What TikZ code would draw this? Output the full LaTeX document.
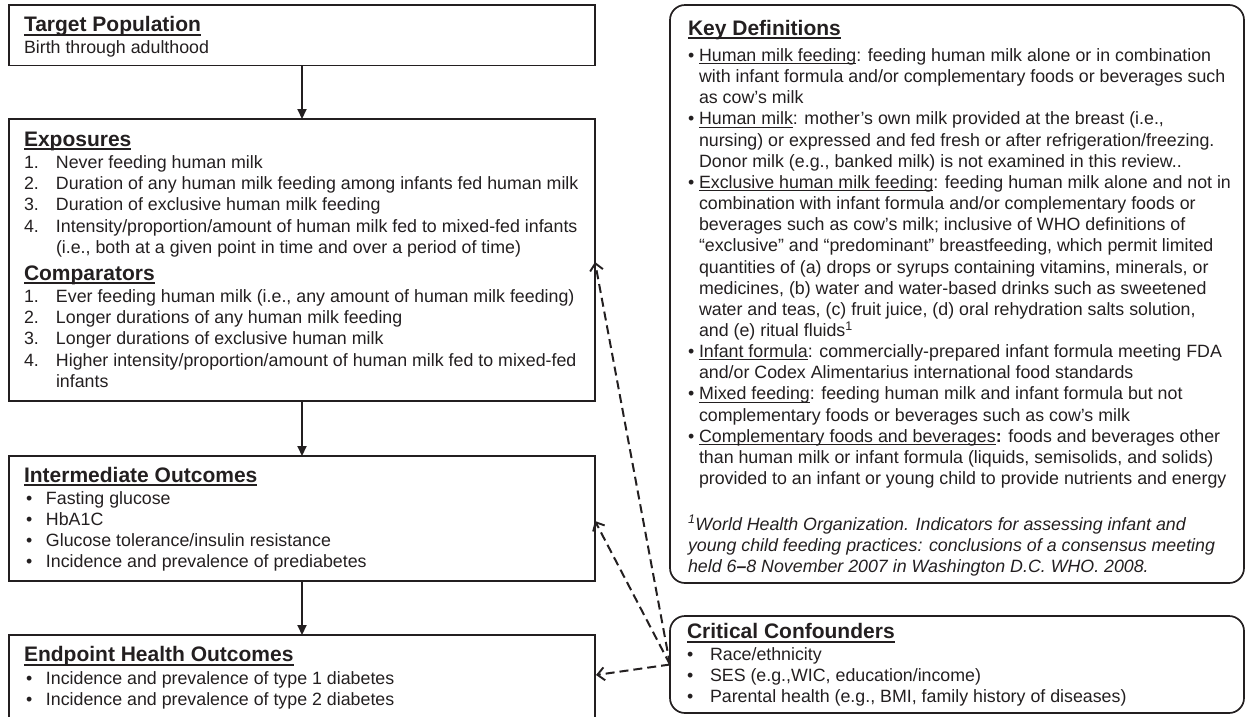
\documentclass[tikz,border=0pt]{standalone}
\usepackage{fontspec}
\setmainfont{Liberation Sans}
\usetikzlibrary{arrows.meta}
\definecolor{ink}{RGB}{35,31,32}
\newcommand\ulT[1]{\setbox0\hbox{#1}\makebox[0pt][l]{\rule[-4.3pt]{\wd0}{2.3pt}}\box0}
\newcommand\ulK[1]{\setbox0\hbox{#1}\makebox[0pt][l]{\rule[-2.8pt]{\wd0}{1.1pt}}\box0}
\newcommand\ttl[1]{{\fontsize{21}{21}\selectfont\bfseries\ulT{#1}}}
\newcommand\nm[1]{\makebox[32pt][l]{#1}}
\newcommand\bl{\makebox[22pt][l]{\hspace{2pt}•}}
\newcommand\kb{\makebox[11pt][l]{•}}
\newcommand\kc{\hspace*{11pt}}
\newcommand\cb{\makebox[23pt][l]{•}}
\newcommand\body{\fontsize{17.8}{21.2}\selectfont\lineskiplimit=-100pt\raggedright}
\begin{document}
\begin{tikzpicture}[x=1pt,y=-1pt,
  box/.style={draw=ink, line width=1.7pt, inner sep=0pt, outer sep=0pt, anchor=north west},
  rbox/.style={box, rounded corners=15pt},
  txt/.style={inner sep=0pt, outer sep=0pt, anchor=base west, text=ink},
  arr/.style={draw=ink, line width=2pt, -{Triangle[length=10pt,width=9pt]}},
  darr/.style={draw=ink, line width=2pt, dash pattern=on 9pt off 5pt,
    -{Straight Barb[length=7pt,width=13pt,line width=1.9pt]}}]
\useasboundingbox (0,0) rectangle (1247,716);
\clip (0,0) rectangle (1247,716);

% left column boxes
\node[box, minimum width=586pt, minimum height=60.5pt] (tp) at (9,5) {};
\node[box, minimum width=586pt, minimum height=282pt] (exp) at (9,119) {};
\node[box, minimum width=586pt, minimum height=125pt] (int) at (9,456) {};
\node[box, minimum width=586pt, minimum height=130pt] (end) at (9,635) {};
% right column boxes
\node[rbox, minimum width=574pt, minimum height=578pt] (kd) at (670,5) {};
\node[rbox, minimum width=574pt, minimum height=97pt] (cc) at (670,616) {};

% texts
\node[txt] (tpT) at (24,31.5) {\parbox[t]{600pt}{\body
\ttl{Target Population}\\[0.6pt]
Birth through adulthood}};

\node[txt] (expT) at (24,146) {\parbox[t]{600pt}{\body
\ttl{Exposures}\\[1.3pt]
\nm{1.}Never feeding human milk\\
\nm{2.}Duration of any human milk feeding among infants fed human milk\\
\nm{3.}Duration of exclusive human milk feeding\\
\nm{4.}Intensity/proportion/amount of human milk fed to mixed-fed infants\\
\nm{}(i.e., both at a given point in time and over a period of time)\\[5.5pt]
\ttl{Comparators}\\[1.3pt]
\nm{1.}Ever feeding human milk (i.e., any amount of human milk feeding)\\
\nm{2.}Longer durations of any human milk feeding\\
\nm{3.}Longer durations of exclusive human milk\\
\nm{4.}Higher intensity/proportion/amount of human milk fed to mixed-fed\\
\nm{}infants}};

\node[txt] (intT) at (24,482) {\parbox[t]{600pt}{\body
\ttl{Intermediate Outcomes}\\[0.8pt]
\bl Fasting glucose\\
\bl HbA1C\\
\bl Glucose tolerance/insulin resistance\\
\bl Incidence and prevalence of prediabetes}};

\node[txt] (endT) at (24,661.5) {\parbox[t]{600pt}{\body
\ttl{Endpoint Health Outcomes}\\[1.3pt]
\bl Incidence and prevalence of type 1 diabetes\\
\bl Incidence and prevalence of type 2 diabetes}};

\node[txt] (kdT) at (688,35) {\parbox[t]{600pt}{\body\baselineskip=21.15pt
\ttl{Key Definitions}\\[5.35pt]
\kb\ulK{Human milk feeding}: feeding human milk alone or in combination\\
\kc with infant formula and/or complementary foods or beverages such\\
\kc as cow’s milk\\
\kb\ulK{Human milk}: mother’s own milk provided at the breast (i.e.,\\
\kc nursing) or expressed and fed fresh or after refrigeration/freezing.\\
\kc Donor milk (e.g., banked milk) is not examined in this review..\\
\kb\ulK{Exclusive human milk feeding}: feeding human milk alone and not in\\
\kc combination with infant formula and/or complementary foods or\\
\kc beverages such as cow’s milk; inclusive of WHO definitions of\\
\kc “exclusive” and “predominant” breastfeeding, which permit limited\\
\kc quantities of (a) drops or syrups containing vitamins, minerals, or\\
\kc medicines, (b) water and water-based drinks such as sweetened\\
\kc water and teas, (c) fruit juice, (d) oral rehydration salts solution,\\
\kc and (e) ritual fluids\textsuperscript{1}\\
\kb\ulK{Infant formula}: commercially-prepared infant formula meeting FDA\\
\kc and/or Codex Alimentarius international food standards\\
\kb\ulK{Mixed feeding}: feeding human milk and infant formula but not\\
\kc complementary foods or beverages such as cow’s milk\\
\kb\ulK{Complementary foods and beverages}\textbf{:} foods and beverages other\\
\kc than human milk or infant formula (liquids, semisolids, and solids)\\
\kc provided to an infant or young child to provide nutrients and energy\\[24.35pt]
\itshape\textsuperscript{1}World Health Organization. Indicators for assessing infant and\\
young child feeding practices: conclusions of a consensus meeting\\
held 6\textbf{–}8 November 2007 in Washington D.C. WHO. 2008.}};

\node[txt] (ccT) at (687,638.5) {\parbox[t]{600pt}{\body
\ttl{Critical Confounders}\\[0.3pt]
\cb Race/ethnicity\\
\cb SES (e.g.,WIC, education/income)\\
\cb Parental health (e.g., BMI, family history of diseases)}};

% solid flow arrows
\draw[arr] (tp.south) -- (exp.north);
\draw[arr] (exp.south) -- (int.north);
\draw[arr] (int.south) -- (end.north);

% dashed confounder arrows
\coordinate (eIn) at (595,262);
\coordinate (iIn) at (595,521);
\coordinate (dIn) at (596,675);
\draw[darr] (cc.west) -- (eIn);
\draw[darr] (cc.west) -- (iIn);
\draw[darr] (cc.west) -- (dIn);
\end{tikzpicture}
\end{document}
